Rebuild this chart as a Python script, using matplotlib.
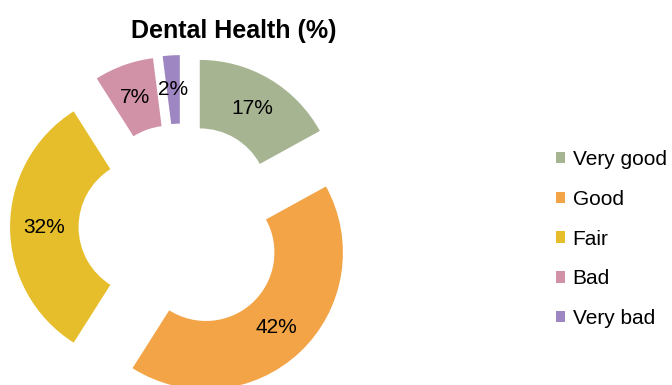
import matplotlib.pyplot as plt

plt.rcParams['font.family'] = ['Liberation Sans', 'DejaVu Sans']

categories = ['Very good', 'Good', 'Fair', 'Bad', 'Very bad']
shares = [17, 42, 32, 7, 2]
colors = ['#A6B492', '#F2A447', '#E6BD2A', '#D191A6', '#9D86C1']

W, H = 672, 385
cx, cy, R = 182, 227, 137   # ring centre and outer radius, pixels

fig = plt.figure(figsize=(W / 100, H / 100), dpi=100)
ax = fig.add_axes([0, 0, 1, 1])

wedges, texts, autotexts = ax.pie(
    shares, colors=colors, startangle=90, counterclock=False,
    explode=[0.255] * len(shares), radius=1,
    wedgeprops=dict(width=0.5, linewidth=0),
    autopct=lambda p: f'{p:.0f}%', pctdistance=0.75,
    textprops=dict(fontsize=15, color='black'))

ax.set_aspect('auto')
ax.set_xlim(-cx / R, (W - cx) / R)
ax.set_ylim(-(H - cy) / R, cy / R)
ax.axis('off')

fig.text(234 / W, 1 - 31 / H, 'Dental Health (%)', fontsize=18,
         fontweight='bold', ha='center', va='center')

fig.legend(wedges, categories, loc='center left',
           bbox_to_anchor=(556 / W, 1 - 239 / H), frameon=False,
           fontsize=15, handlelength=0.45, handleheight=0.45,
           handletextpad=0.35, labelspacing=1.0,
           borderpad=0, borderaxespad=0)

fig.savefig('out.png', dpi=100)
